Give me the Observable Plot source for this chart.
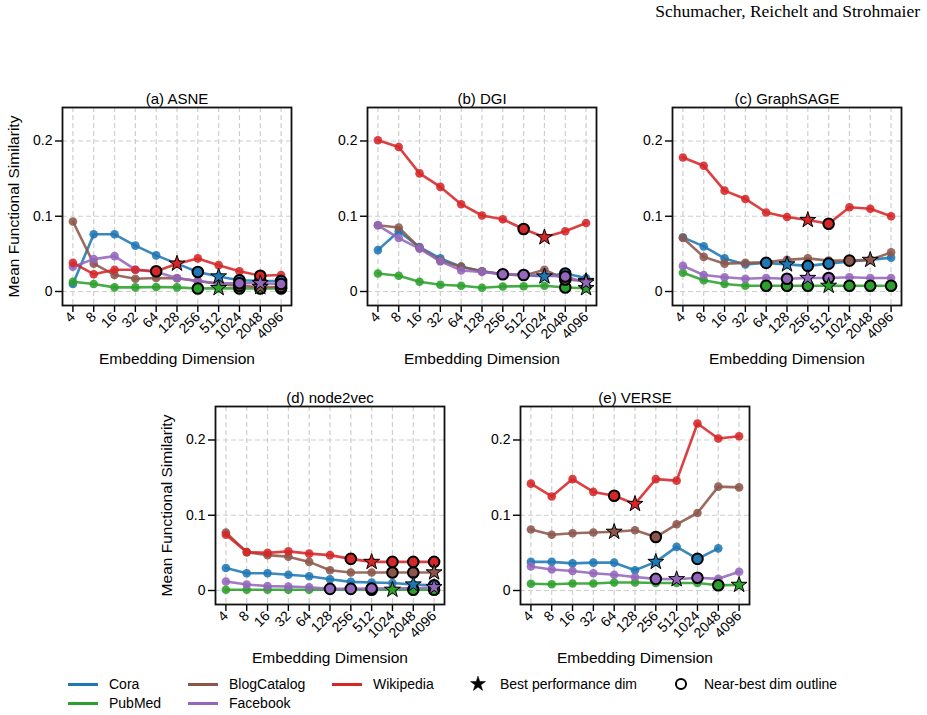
<!DOCTYPE html>
<html><head><meta charset="utf-8">
<script src="https://cdn.jsdelivr.net/npm/d3@7"></script>
<script src="https://cdn.jsdelivr.net/npm/@observablehq/plot@0.6"></script>
<style>
body{margin:0;background:#fff;font-family:"Liberation Sans",Arial,sans-serif;}
#wrap{position:relative;width:927px;height:715px;overflow:hidden;background:#fff}
.panel{position:absolute}
#header{position:absolute;right:7px;top:1px;font-family:"Liberation Serif","Times New Roman",serif;font-size:17.5px;color:#000;white-space:nowrap}
.lg{position:absolute;font-size:14px;color:#000;white-space:nowrap;line-height:16px}
.sw{position:absolute;height:3px;width:30px}
</style></head>
<body><div id="wrap"><div id="header">Schumacher, Reichelt and Strohmaier</div></div>
<script>
const dims = [4,8,16,32,64,128,256,512,1024,2048,4096];
const datasets = ["Cora","PubMed","BlogCatalog","Facebook","Wikipedia"];
const colors = ["#1f77b4","#2ca02c","#8c564b","#9467bd","#d62728"];
const yTicks = [0, 0.1, 0.2];

// (a) ASNE
const asneCora        = [0.010,0.076,0.076,0.061,0.048,0.037,0.026,0.020,0.015,0.014,0.014];
const asnePubMed      = [0.013,0.010,0.0055,0.0055,0.006,0.0055,0.004,0.0045,0.004,0.004,0.004];
const asneBlogCatalog = [0.093,0.037,0.022,0.017,0.018,0.0175,0.014,0.010,0.0075,0.006,0.006];
const asneFacebook    = [0.033,0.043,0.047,0.029,0.026,0.018,0.014,0.011,0.011,0.011,0.010];
const asneWikipedia   = [0.038,0.023,0.029,0.029,0.027,0.037,0.044,0.035,0.027,0.021,0.022];
const asneBest = [512,512,2048,2048,128];
const asneNear = [[256,1024,2048,4096],[256,1024,2048,4096],[1024,4096],[1024,4096],[64,2048]];

// (b) DGI
const dgiCora        = [0.055,0.080,0.059,0.044,0.033,0.027,0.023,0.022,0.020,0.024,0.018];
const dgiPubMed      = [0.024,0.021,0.013,0.009,0.0076,0.005,0.0067,0.007,0.0076,0.0053,0.0044];
const dgiBlogCatalog = [0.088,0.085,0.058,0.041,0.033,0.027,0.023,0.021,0.029,0.016,0.014];
const dgiFacebook    = [0.088,0.071,0.057,0.040,0.028,0.026,0.023,0.022,0.021,0.020,0.012];
const dgiWikipedia   = [0.201,0.192,0.157,0.139,0.116,0.101,0.096,0.083,0.072,0.080,0.091];
const dgiBest = [1024,4096,4096,4096,1024];
const dgiNear = [[2048],[2048],[2048],[256,512,2048],[512]];

// (c) GraphSAGE
const sageCora        = [0.072,0.060,0.044,0.036,0.038,0.036,0.034,0.037,0.040,0.042,0.045];
const sagePubMed      = [0.025,0.015,0.010,0.0076,0.0076,0.0076,0.0076,0.0076,0.0076,0.0076,0.0076];
const sageBlogCatalog = [0.071,0.046,0.037,0.038,0.039,0.042,0.044,0.041,0.041,0.042,0.052];
const sageFacebook    = [0.034,0.022,0.019,0.017,0.018,0.017,0.018,0.018,0.019,0.018,0.018];
const sageWikipedia   = [0.178,0.167,0.134,0.123,0.105,0.099,0.095,0.090,0.112,0.110,0.100];
const sageBest = [128,512,2048,256,256];
const sageNear = [[64,256,512],[64,128,256,1024,2048,4096],[1024],[128,512],[512]];

// (d) node2vec
const n2vCora        = [0.030,0.023,0.023,0.021,0.019,0.015,0.0115,0.0106,0.010,0.008,0.007];
const n2vPubMed      = [0.001,0.001,0.001,0.001,0.001,0.001,0.001,0.001,0.001,0.001,0.001];
const n2vBlogCatalog = [0.077,0.051,0.047,0.045,0.038,0.027,0.024,0.024,0.024,0.024,0.024];
const n2vFacebook    = [0.012,0.008,0.0058,0.0053,0.0044,0.0022,0.0022,0.0027,0.003,0.003,0.0044];
const n2vWikipedia   = [0.074,0.051,0.050,0.052,0.049,0.047,0.042,0.038,0.038,0.038,0.038];
const n2vBest = [2048,1024,4096,4096,512];
const n2vNear = [[4096],[512,2048,4096],[1024,2048],[128,256,512],[256,1024,2048,4096]];

// (e) VERSE
const verseCora        = [0.038,0.038,0.036,0.037,0.037,0.027,0.038,0.058,0.042,0.056,null];
const versePubMed      = [0.009,0.0084,0.0093,0.0093,0.0106,0.0106,0.010,0.010,0.010,0.007,0.0075];
const verseBlogCatalog = [0.081,0.074,0.076,0.077,0.078,0.080,0.071,0.088,0.103,0.138,0.137];
const verseFacebook    = [0.032,0.028,0.026,0.023,0.021,0.018,0.0155,0.015,0.017,0.0155,0.025];
const verseWikipedia   = [0.142,0.125,0.148,0.131,0.126,0.115,0.148,0.146,0.222,0.202,0.205];
const verseBest = [256,4096,64,512,128];
const verseNear = [[1024],[2048],[256],[256,1024],[64]];

const titles = ["(a) ASNE","(b) DGI","(c) GraphSAGE","(d) node2vec","(e) VERSE"];
const yLabel = "Mean Functional Similarity";
const xLabel = "Embedding Dimension";

const FONT = "Liberation Sans, Arial, sans-serif";

function panel(title, series, best, near, showYLabel) {
  const rows = [];
  datasets.forEach((ds, i) => dims.forEach((d, j) => {
    if (series[i][j] != null) rows.push({ds, dim: d, v: series[i][j]});
  }));
  const bestRows = datasets.map((ds, i) => ({ds, dim: best[i], v: series[i][dims.indexOf(best[i])]}));
  const nearRows = datasets.flatMap((ds, i) => near[i].map(d => ({ds, dim: d, v: series[i][dims.indexOf(d)]})));
  return Plot.plot({
    width: 301, height: 293,
    marginLeft: 62, marginRight: 10, marginTop: 30, marginBottom: 65,
    x: {type: "log", base: 2, domain: [4 / Math.SQRT2, 4096 * Math.SQRT2]},
    y: {domain: [-0.0186, 0.2445]},
    color: {domain: datasets, range: colors},
    style: {fontFamily: FONT, fontSize: "14px", color: "#000", background: "transparent", overflow: "visible"},
    marks: [
      Plot.gridX(dims, {stroke: "#cfcfcf", strokeOpacity: 1, strokeDasharray: "5,3", strokeWidth: 1.2}),
      Plot.gridY(yTicks, {stroke: "#cfcfcf", strokeOpacity: 1, strokeDasharray: "5,3", strokeWidth: 1.2}),
      Plot.axisY(yTicks, {tickFormat: d => d === 0 ? "0" : d.toFixed(1), tickSize: 7, tickPadding: 3, label: null, fontSize: 14, strokeWidth: 1.4}),
      Plot.axisX(dims, {tickRotate: -45, tickFormat: d => String(d), tickSize: 7, tickPadding: 2, label: null, fontSize: 14, strokeWidth: 1.4}),
      Plot.line(rows, {x: "dim", y: "v", z: "ds", stroke: "ds", strokeWidth: 2.6, strokeOpacity: 0.88}),
      Plot.dot(rows, {x: "dim", y: "v", fill: "ds", r: 4.3, fillOpacity: 0.88}),
      Plot.dot(nearRows, {x: "dim", y: "v", fill: "ds", stroke: "black", strokeWidth: 2, r: 5.3}),
      Plot.dot(bestRows, {x: "dim", y: "v", fill: "ds", stroke: "black", strokeWidth: 1, symbol: "star", r: 5}),
      Plot.frame({stroke: "#111", strokeWidth: 1.8}),
      Plot.text([title], {text: d => d, frameAnchor: "top", lineAnchor: "bottom", dy: -4, fontSize: 15, fill: "#000"}),
      Plot.text([xLabel], {text: d => d, frameAnchor: "bottom", lineAnchor: "bottom", dy: 58, fontSize: 15.5, fill: "#000"}),
      showYLabel ? Plot.text([yLabel], {text: d => d, frameAnchor: "left", textAnchor: "middle", lineAnchor: "middle", dx: -48, rotate: -90, fontSize: 15.5, fill: "#000"}) : null
    ]
  });
}

const wrap = document.getElementById("wrap");
function place(el, left, top) {
  el.classList.add("panel");
  el.style.left = left + "px";
  el.style.top = top + "px";
  wrap.appendChild(el);
}
place(panel(titles[0], [asneCora, asnePubMed, asneBlogCatalog, asneFacebook, asneWikipedia], asneBest, asneNear, true), 0, 77);
place(panel(titles[1], [dgiCora, dgiPubMed, dgiBlogCatalog, dgiFacebook, dgiWikipedia], dgiBest, dgiNear, false), 305, 77);
place(panel(titles[2], [sageCora, sagePubMed, sageBlogCatalog, sageFacebook, sageWikipedia], sageBest, sageNear, false), 610, 77);
place(panel(titles[3], [n2vCora, n2vPubMed, n2vBlogCatalog, n2vFacebook, n2vWikipedia], n2vBest, n2vNear, true), 153, 376);
place(panel(titles[4], [verseCora, versePubMed, verseBlogCatalog, verseFacebook, verseWikipedia], verseBest, verseNear, false), 458, 376);

// Legend
const legendItems = [
  {label: "Cora", color: colors[0], x: 68, y: 684},
  {label: "PubMed", color: colors[1], x: 68, y: 703},
  {label: "BlogCatalog", color: colors[2], x: 188, y: 684},
  {label: "Facebook", color: colors[3], x: 188, y: 703},
  {label: "Wikipedia", color: colors[4], x: 332, y: 684}
];
legendItems.forEach(it => {
  const sw = document.createElement("div");
  sw.className = "sw";
  sw.style.left = it.x + "px"; sw.style.top = (it.y - 1.5) + "px"; sw.style.background = it.color;
  wrap.appendChild(sw);
  const t = document.createElement("div");
  t.className = "lg"; t.textContent = it.label;
  t.style.left = (it.x + 41) + "px"; t.style.top = (it.y - 8) + "px";
  wrap.appendChild(t);
});
function symLegend(sym, label, cx, tx, y, fill, stroke, sw, size) {
  const svg = d3.create("svg").attr("width", 20).attr("height", 20)
    .style("position", "absolute").style("left", (cx - 10) + "px").style("top", (y - 10) + "px");
  svg.append("path").attr("transform", "translate(10,10)")
    .attr("d", d3.symbol(sym, size)())
    .attr("fill", fill).attr("stroke", stroke).attr("stroke-width", sw);
  wrap.appendChild(svg.node());
  const t = document.createElement("div");
  t.className = "lg"; t.textContent = label;
  t.style.left = tx + "px"; t.style.top = (y - 8) + "px";
  wrap.appendChild(t);
}
symLegend(d3.symbolStar, "Best performance dim", 478, 500, 684, "black", "black", 0.5, 70);
symLegend(d3.symbolCircle, "Near-best dim outline", 681, 704, 684, "none", "black", 2, 80);
</script>
</body></html>
